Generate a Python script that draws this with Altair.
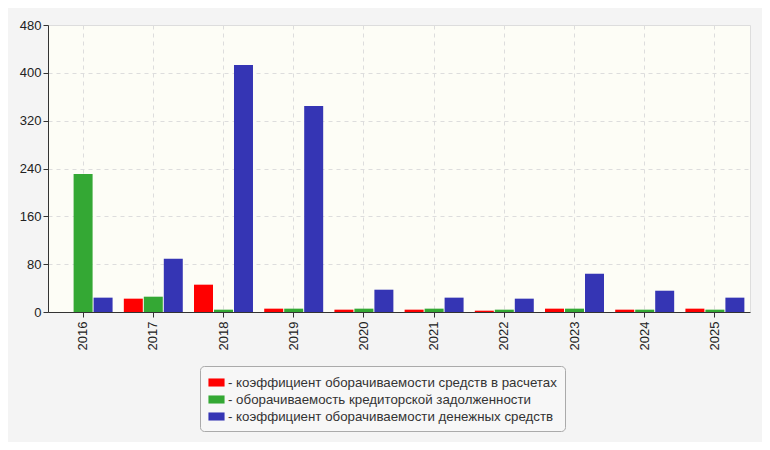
import altair as alt
import pandas as pd

years = ["2016", "2017", "2018", "2019", "2020", "2021", "2022", "2023", "2024", "2025"]
series = [
    "коэффициент оборачиваемости средств в расчетах",
    "оборачиваемость кредиторской задолженности",
    "коэффициент оборачиваемости денежных средств",
]
colors = ["#ff0000", "#34a834", "#3535b4"]
red_vals = [0, 22.3, 45.7, 5.6, 3.9, 3.9, 2.2, 5.6, 3.9, 5.6]
green_vals = [231, 25.6, 3.9, 5.6, 5.6, 5.6, 3.9, 5.6, 3.9, 3.9]
blue_vals = [24, 89, 413, 344.7, 37.3, 24, 22.3, 64, 35.6, 24]
y_ticks = [0, 80, 160, 240, 320, 400, 480]

rows = []
for i, y in enumerate(years):
    for s, vals in zip(series, [red_vals, green_vals, blue_vals]):
        rows.append({"year": y, "series": s, "value": vals[i]})
df = pd.DataFrame(rows)

font = "Liberation Sans"

chart = alt.Chart(df).mark_bar().encode(
    x=alt.X("year:N", sort=years, title=None,
            scale=alt.Scale(paddingInner=0.16, paddingOuter=0.08),
            axis=alt.Axis(labelAngle=-90, labelAlign="right", labelBaseline="middle",
                          labelFontSize=13, labelColor="#222", labelFont=font,
                          labelPadding=4,
                          grid=True, gridDash=[4, 4], gridColor="#dddddd",
                          bandPosition=0.5,
                          domainColor="#333", tickColor="#333", tickSize=5)),
    xOffset=alt.XOffset("series:N", sort=series,
                        scale=alt.Scale(paddingInner=0.05, paddingOuter=0)),
    y=alt.Y("value:Q", title=None,
            scale=alt.Scale(domain=[0, 480], nice=False),
            axis=alt.Axis(values=y_ticks, labelFontSize=13, labelColor="#222",
                          labelFont=font, grid=True, gridDash=[4, 4],
                          gridColor="#dddddd", domainColor="#333",
                          tickColor="#333", tickSize=5, labelPadding=2)),
    color=alt.Color("series:N", sort=series,
                    scale=alt.Scale(domain=series, range=colors),
                    legend=alt.Legend(
                        title=None, orient="none", legendX=152, legendY=341,
                        direction="vertical",
                        symbolType="M-1,-0.5H1V0.5H-1Z", symbolSize=260,
                        symbolStrokeWidth=0,
                        labelExpr="'- ' + datum.label",
                        labelLimit=0,
                        labelFontSize=13.3, labelFont=font, labelColor="#333",
                        labelOffset=3, rowPadding=2,
                        fillColor="#f7f7f7", strokeColor="#aaaaaa",
                        cornerRadius=4, padding=8,
                    )),
).properties(
    width=702, height=287,
    background="#f4f4f4",
    padding={"left": 40, "top": 17, "right": 12, "bottom": 130},
    autosize=alt.AutoSizeParams(type="none"),
).configure_view(
    fill="#fdfdf6", stroke="#dddddd", strokeWidth=1
)

chart.save("out.html", embed_options={"renderer": "svg", "actions": False})
